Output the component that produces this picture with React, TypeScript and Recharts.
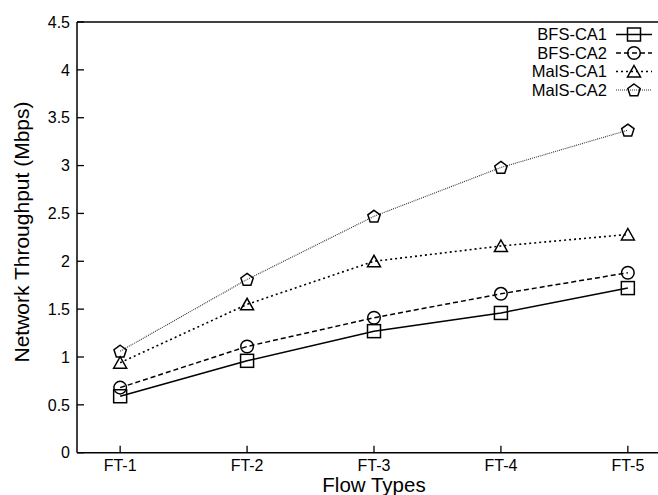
import React from 'react';
import { LineChart, Line, XAxis, YAxis, ReferenceLine, Legend } from 'recharts';

// Flow type categories and throughput (Mbps) per scheme
const flowTypes = ['FT-1', 'FT-2', 'FT-3', 'FT-4', 'FT-5'];
const bfsCa1 = [0.59, 0.96, 1.27, 1.46, 1.72];
const bfsCa2 = [0.68, 1.11, 1.41, 1.66, 1.88];
const malsCa1 = [0.94, 1.55, 2.0, 2.16, 2.28];
const malsCa2 = [1.06, 1.81, 2.47, 2.98, 3.37];
const yTicks = [0, 0.5, 1, 1.5, 2, 2.5, 3, 3.5, 4, 4.5];

const data = flowTypes.map((ft, i) => ({
  idx: i + 1,
  ft,
  'BFS-CA1': bfsCa1[i],
  'BFS-CA2': bfsCa2[i],
  'MalS-CA1': malsCa1[i],
  'MalS-CA2': malsCa2[i],
}));

const FONT = '"Liberation Sans", Arial, Helvetica, sans-serif';

type Shape = 'square' | 'circle' | 'triangle' | 'pentagon';

const Marker = ({ cx, cy, shape }: { cx: number; cy: number; shape: Shape }) => {
  const common = { fill: 'none', stroke: '#000', strokeWidth: 1.5 };
  if (shape === 'square') {
    return <rect x={cx - 6.5} y={cy - 6.5} width={13} height={13} {...common} />;
  }
  if (shape === 'circle') {
    return <circle cx={cx} cy={cy} r={6.3} {...common} />;
  }
  if (shape === 'triangle') {
    const pts = `${cx - 6.5},${cy + 5.5} ${cx + 6.5},${cy + 5.5} ${cx},${cy - 6}`;
    return <polygon points={pts} {...common} strokeLinejoin="miter" />;
  }
  const r = 6.5;
  const pts = [0, 1, 2, 3, 4]
    .map((k) => {
      const a = -Math.PI / 2 + (k * 2 * Math.PI) / 5;
      return `${cx + r * Math.cos(a)},${cy + 0.5 + r * Math.sin(a)}`;
    })
    .join(' ');
  return <polygon points={pts} {...common} />;
};

const series: { key: string; shape: Shape; dash?: string; width: number; color: string }[] = [
  { key: 'BFS-CA1', shape: 'square', width: 1.5, color: '#000' },
  { key: 'BFS-CA2', shape: 'circle', dash: '5 3', width: 1.5, color: '#000' },
  { key: 'MalS-CA1', shape: 'triangle', dash: '2 3', width: 1.6, color: '#000' },
  { key: 'MalS-CA2', shape: 'pentagon', dash: '1 1', width: 1.1, color: '#333' },
];

const YTick = (props: any) => {
  const { x, y, payload } = props;
  return (
    <g>
      <line x1={x + 7} x2={x + 14} y1={y} y2={y} stroke="#000" strokeWidth={1.3} />
      <text x={x} y={y} dy="0.36em" textAnchor="end" fontSize={16} fontFamily={FONT} fill="#000">
        {String(payload.value)}
      </text>
    </g>
  );
};

const XTick = (props: any) => {
  const { x, y, payload } = props;
  return (
    <g>
      <line x1={x} x2={x} y1={y - 7} y2={y - 14} stroke="#000" strokeWidth={1.3} />
      <text x={x} y={y} dy="0.71em" textAnchor="middle" fontSize={16} fontFamily={FONT} fill="#000">
        {flowTypes[payload.value - 1]}
      </text>
    </g>
  );
};

const LegendBox = () => {
  const rows = [34.5, 53, 71.5, 90];
  return (
    <svg width={690} height={495} style={{ position: 'absolute', left: 0, top: 0, pointerEvents: 'none' }}>
      {series.map((s, i) => (
        <g key={s.key}>
          <text x={607} y={rows[i]} dy="0.36em" textAnchor="end" fontSize={16.5} fontFamily={FONT} fill="#000">
            {s.key}
          </text>
          <line
            x1={616}
            x2={652}
            y1={rows[i]}
            y2={rows[i]}
            stroke={s.color}
            strokeWidth={s.width}
            strokeDasharray={s.dash}
          />
          <Marker cx={634} cy={rows[i]} shape={s.shape} />
        </g>
      ))}
      <text x={374} y={492} textAnchor="middle" fontSize={20.5} fontFamily={FONT} fill="#000">
        Flow Types
      </text>
      <text
        x={0}
        y={0}
        transform="translate(28.5,232) rotate(-90)"
        textAnchor="middle"
        fontSize={21}
        fontFamily={FONT}
        fill="#000"
      >
        Network Throughput (Mbps)
      </text>
    </svg>
  );
};

export default function App() {
  return (
    <div
      style={{
        position: 'fixed',
        left: 0,
        top: 0,
        width: 658,
        height: 495,
        overflow: 'hidden',
        background: '#fff',
      }}
    >
      <LineChart width={690} height={495} data={data} margin={{ top: 22, right: 19, bottom: 12.3, left: 17 }}>
        <XAxis
          dataKey="idx"
          type="number"
          domain={[0.66, 5.34]}
          ticks={[1, 2, 3, 4, 5]}
          height={30}
          tickSize={0}
          tickMargin={7}
          tick={<XTick />}
          axisLine={{ stroke: '#000', strokeWidth: 1.5 }}
          tickLine={false}
        />
        <YAxis
          type="number"
          domain={[0, 4.5]}
          ticks={yTicks}
          width={60}
          tickSize={0}
          tickMargin={7}
          tick={<YTick />}
          axisLine={{ stroke: '#000', strokeWidth: 1.5 }}
          tickLine={false}
        />
        <ReferenceLine y={4.5} stroke="#000" strokeWidth={1.5} />
        {series.map((s) => (
          <Line
            key={s.key}
            dataKey={s.key}
            stroke={s.color}
            strokeWidth={s.width}
            strokeDasharray={s.dash}
            isAnimationActive={false}
            dot={(p: any) => <Marker key={`${s.key}-${p.index}`} cx={p.cx} cy={p.cy} shape={s.shape} />}
            activeDot={false}
          />
        ))}
        <Legend
          layout="horizontal"
          verticalAlign="middle"
          align="center"
          wrapperStyle={{ left: 0, top: 0, width: 690, height: 495, pointerEvents: 'none' }}
          content={() => <LegendBox />}
        />
      </LineChart>
    </div>
  );
}
